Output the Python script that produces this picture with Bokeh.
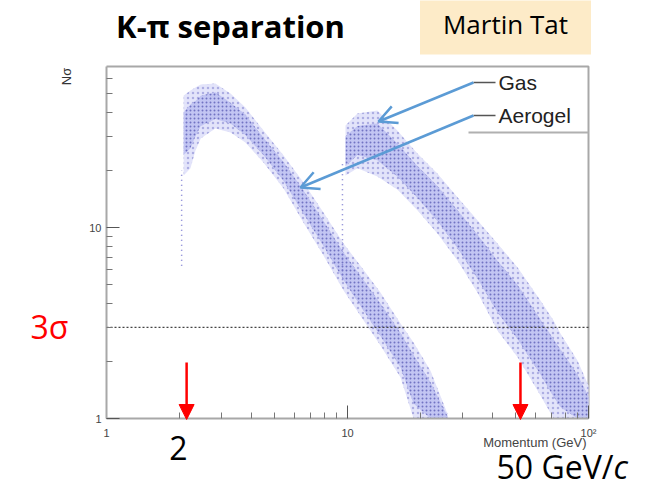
import math
from bokeh.plotting import figure
from bokeh.models import Label, Arrow, NormalHead, OpenHead, FixedTicker, Range1d
from bokeh.embed import file_html
from bokeh.resources import INLINE

# ---------------- data ----------------
# Aerogel band: momentum (GeV/c), outer lower/upper edge and dense-core edges of N_sigma
aerogel_p   = [2.09, 2.23, 2.34, 2.46, 2.83, 3.27, 3.77, 4.48, 5.43, 6.57, 7.95, 9.63, 11.3, 13.7, 16.6, 18.8, 22.1, 26.0]
aerogel_hi  = [49.1, 52.2, 54.1, 56.1, 56.7, 50.3, 42.5, 32.2, 23.8, 17.2, 12.0, 8.25, 6.32, 4.57, 3.14, 2.50, 1.78, 1.06]
aerogel_lo  = [18.7, 20.4, 25.3, 29.2, 33.0, 31.4, 27.9, 21.9, 16.0, 10.6, 7.14, 4.68, 3.46, 2.41, 1.64, 1.00, 1.00, 1.00]
aerogel_chi = [40.0, 44.0, 46.0, 49.0, 51.0, 45.0, 39.0, 29.5, 22.0, 15.6, 10.8, 7.40, 5.60, 4.00, 2.80, 2.15, 1.55, 1.03]
aerogel_clo = [24.0, 26.0, 30.0, 34.0, 37.0, 35.0, 30.5, 24.0, 17.5, 11.8, 8.00, 5.30, 3.90, 2.70, 1.85, 1.20, 1.00, 1.00]

# Gas band
gas_p   = [9.81, 11.0, 13.3, 16.1, 19.5, 23.6, 28.6, 34.6, 41.9, 50.8, 63.2, 71.6, 76.5, 90.0, 100.0]
gas_hi  = [34.2, 39.5, 41.0, 32.2, 24.4, 19.2, 14.4, 10.9, 8.25, 6.18, 4.15, 3.26, 2.79, 2.01, 1.49]
gas_lo  = [18.7, 20.4, 18.5, 15.8, 12.3, 9.30, 6.72, 4.57, 2.89, 2.09, 1.32, 1.00, 1.00, 1.00, 1.00]
gas_chi = [30.0, 34.0, 35.0, 27.5, 21.0, 16.5, 12.3, 9.20, 6.70, 5.00, 3.30, 2.60, 2.30, 1.70, 1.30]
gas_clo = [21.0, 24.0, 22.5, 18.5, 14.3, 10.8, 7.80, 5.40, 3.60, 2.60, 1.70, 1.30, 1.15, 1.00, 1.00]

# sparse threshold streaks (momentum, N_sigma from..to)
aerogel_thr_p = [2.05, 2.05]
aerogel_thr_n = [6.3, 19.9]
gas_thr_p = [9.53, 9.53]
gas_thr_n = [5.3, 22.4]

sigma_line = 3.0
arrow_p = [2.15, 52.2]
arrow_labels = ["2", "50 GeV/", "c"]

x_ticks = [1, 10, 100]
x_tick_labels = ["1", "10", "10\u00b2"]
y_ticks = [1, 10]
y_tick_labels = ["1", "10"]
x_minor = [2, 3, 4, 5, 6, 7, 8, 9, 20, 30, 40, 50, 60, 70, 80, 90]
y_minor = [2, 3, 4, 5, 6, 7, 8, 9, 20, 30, 40, 50, 60]

legend_names = ["Gas", "Aerogel"]

# ---------------- layout ----------------
W, H = 658, 487
FL, FR, FT, FB = 106, 588, 66, 418          # ROOT frame box on the slide (pixels)
XA, XB = 1.0, 100.0                          # momentum range of the box
YA = 1.0
YB = 10 ** ((FB - FT) / 191.0)               # N_sigma at the top of the box


def xd(px):
    return 10 ** (math.log10(XA) + (px - FL) / (FR - FL) * (math.log10(XB) - math.log10(XA)))


def yd(py):
    return 10 ** (math.log10(YA) + (FB - py) / (FB - FT) * (math.log10(YB) - math.log10(YA)))


# the Bokeh frame covers the whole slide; the ROOT box is drawn inside it
p = figure(width=W, height=H, x_axis_type="log", y_axis_type="log",
           x_range=Range1d(xd(0), xd(W)), y_range=Range1d(yd(H), yd(0)),
           output_backend="svg", toolbar_location=None, min_border=0)
p.grid.visible = False
p.background_fill_color = "white"
p.border_fill_color = "white"
p.outline_line_color = None

p.xaxis.fixed_location = YA
p.yaxis.fixed_location = XA
p.xaxis.bounds = (XA, XB)
p.yaxis.bounds = (YA, YB)
for ax, ticks, minor, labels in ((p.xaxis[0], x_ticks, x_minor, x_tick_labels),
                                 (p.yaxis[0], y_ticks, y_minor, y_tick_labels)):
    ax.ticker = FixedTicker(ticks=ticks, minor_ticks=minor)
    ax.major_label_overrides = {t: l for t, l in zip(ticks, labels)}
    ax.axis_line_color = "#a8a8a8"
    ax.axis_line_width = 2
    ax.major_tick_line_color = "#555555"
    ax.minor_tick_line_color = "#777777"
    ax.major_tick_in = 13
    ax.major_tick_out = 0
    ax.minor_tick_in = 6
    ax.minor_tick_out = 0
    ax.major_label_text_font = "Liberation Sans"
    ax.major_label_text_font_size = "11px"
    ax.major_label_text_color = "#444444"
p.xaxis.major_label_standoff = 8
p.yaxis.major_label_standoff = 5

# top and right sides of the ROOT box
p.line(x=[XA, XB, XB], y=[YB, YB, YA], line_color="#a8a8a8", line_width=2)

# bands: sparse outer halo and dense core
for xs, lo, hi in ((aerogel_p, aerogel_lo, aerogel_hi), (gas_p, gas_lo, gas_hi)):
    p.varea(x=xs, y1=lo, y2=hi, fill_color="#e3e4fa", fill_alpha=1.0,
            hatch_pattern="dot", hatch_color="#5c5cc0", hatch_alpha=0.4,
            hatch_scale=5, hatch_weight=1.0)
for xs, lo, hi in ((aerogel_p, aerogel_clo, aerogel_chi), (gas_p, gas_clo, gas_chi)):
    p.varea(x=xs, y1=lo, y2=hi, fill_color="#c2c5f3", fill_alpha=1.0,
            hatch_pattern="dot", hatch_color="#30309a", hatch_alpha=0.55,
            hatch_scale=4, hatch_weight=1.2)

for xs, ns in ((aerogel_thr_p, aerogel_thr_n), (gas_thr_p, gas_thr_n)):
    p.line(x=xs, y=ns, line_color="#7a7ad0", line_width=1.5, line_dash="1 4")

p.line(x=[XA, XB], y=[sigma_line, sigma_line], line_color="#444444",
       line_dash="2 2", line_width=1.2)

# legend (ROOT style, in the box)
leg_y = [82, 115]
for name, py in zip(legend_names, leg_y):
    p.segment(x0=[xd(473)], y0=[yd(py)], x1=[xd(495)], y1=[yd(py)],
              line_color="#555555", line_width=1.5)
    p.add_layout(Label(x=xd(498), y=yd(py), text=name, text_align="left",
                       text_baseline="middle", text_font="Liberation Sans",
                       text_font_size="21px", text_color="#222222"))
p.segment(x0=[xd(468)], y0=[yd(132)], x1=[xd(588)], y1=[yd(132)],
          line_color="#b0b0b0", line_width=2)

BLUE = "#5b9bd5"
for (sx, sy), (ex, ey) in (((473, 82), (378, 121)), ((473, 115), (300, 187))):
    p.add_layout(Arrow(end=OpenHead(line_color=BLUE, line_width=2.5, size=18),
                       x_start=xd(sx), y_start=yd(sy), x_end=xd(ex), y_end=yd(ey),
                       line_color=BLUE, line_width=2.5))

for ap in arrow_p:
    p.add_layout(Arrow(end=NormalHead(size=15, fill_color="#ff0000", line_color="#ff0000"),
                       x_start=ap, y_start=yd(362), x_end=ap, y_end=yd(419),
                       line_color="#ff0000", line_width=2.5))


def slide_label(px, py, text, **kw):
    p.add_layout(Label(x=xd(px), y=yd(py), text=text, **kw))


slide_label(178, 447, arrow_labels[0], text_align="center", text_baseline="middle",
            text_font="Open Sans", text_font_size="32px", text_color="#000000")
slide_label(613, 466, arrow_labels[1], text_align="right", text_baseline="middle",
            text_font="Open Sans", text_font_size="32px", text_color="#000000")
slide_label(613, 466, arrow_labels[2], text_align="left", text_baseline="middle",
            text_font="Open Sans", text_font_style="italic", text_font_size="32px",
            text_color="#000000")
slide_label(49, 326, "3\u03c3", text_align="center", text_baseline="middle",
            text_font="Open Sans", text_font_size="32px", text_color="#ff0000")
slide_label(230, 25, "K-\u03c0 separation", text_align="center", text_baseline="middle",
            text_font="Open Sans", text_font_style="bold", text_font_size="31px",
            text_color="#000000")
slide_label(505, 23, "Martin Tat", text_align="center", text_baseline="middle",
            text_font="Open Sans", text_font_size="26px", text_color="#000000",
            background_fill_color="#fdebc8",
            padding=dict(left=23, right=23, top=13, bottom=13))
slide_label(66, 76, "N\u03c3", angle=math.pi / 2, text_align="center",
            text_baseline="middle", text_font="Liberation Sans", text_font_size="13px",
            text_color="#333333")
slide_label(586, 442, "Momentum (GeV)", text_align="right", text_baseline="middle",
            text_font="Liberation Sans", text_font_size="13px", text_color="#444444")

open("out.html", "w").write(file_html(p, INLINE))
